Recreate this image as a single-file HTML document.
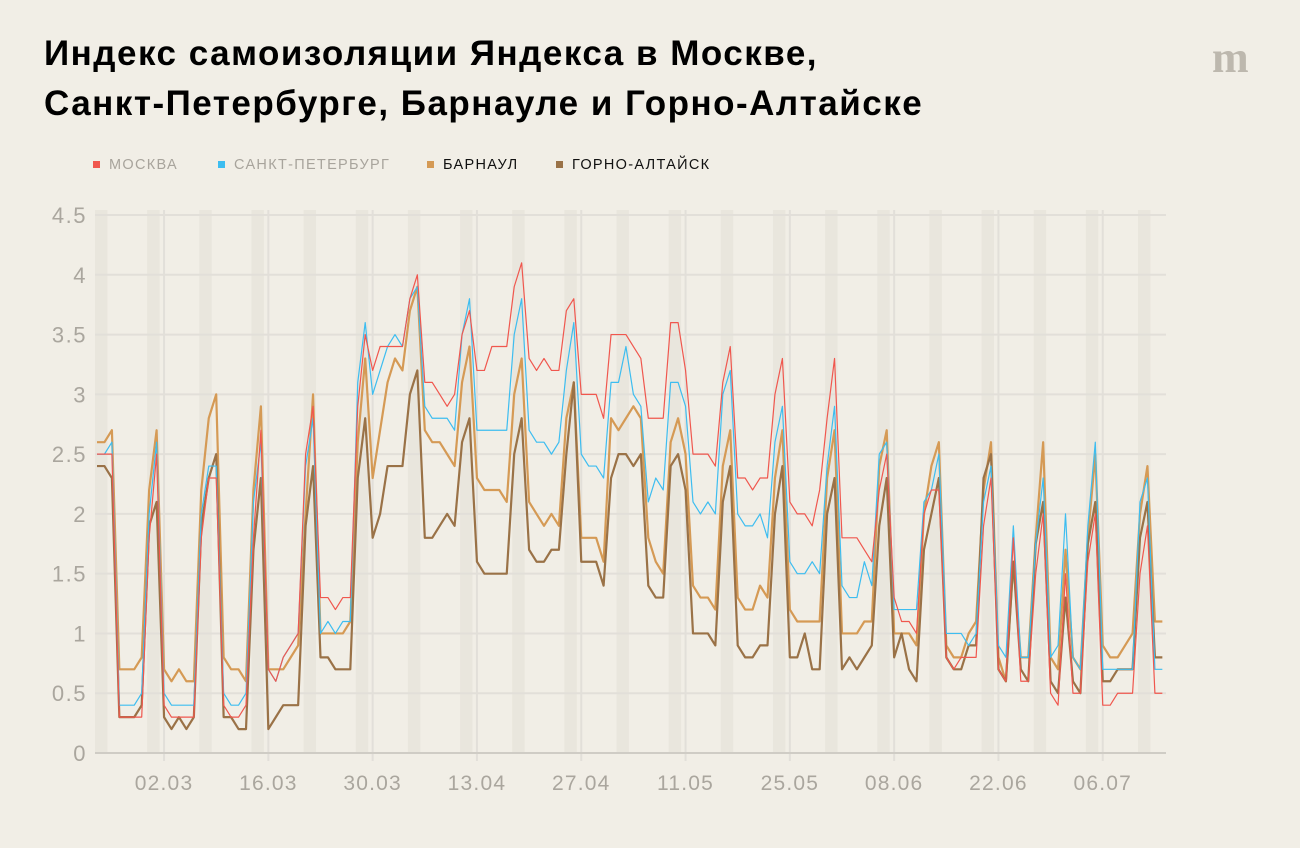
<!DOCTYPE html>
<html><head><meta charset="utf-8"><style>
body{margin:0;background:#f1eee6;width:1300px;height:848px;overflow:hidden;font-family:"Liberation Sans","Noto Sans CJK SC",sans-serif;}
h1{position:absolute;left:44px;top:29px;margin:0;font-size:35px;line-height:50px;font-weight:bold;color:#000;letter-spacing:1.5px;white-space:nowrap;}
.logo{position:absolute;left:1212px;top:32px;font-family:"Liberation Serif",serif;font-weight:bold;font-size:44px;color:#bdb8ae;}
.leg{position:absolute;top:157px;font-size:14.5px;letter-spacing:1.3px;}
.leg i{display:inline-block;width:7px;height:7px;margin-right:9px;vertical-align:1px;}
</style></head><body>
<h1>Индекс самоизоляции Яндекса в Москве,<br>Санкт-Петербурге, Барнауле и Горно-Алтайске</h1>
<div class="logo">m</div>
<div class="leg" style="left:93px;color:#a8a49c"><i style="background:#f0574e"></i>МОСКВА</div>
<div class="leg" style="left:218px;color:#a8a49c"><i style="background:#3dbdf0"></i>САНКТ-ПЕТЕРБУРГ</div>
<div class="leg" style="left:427px;color:#111"><i style="background:#d59a55"></i>БАРНАУЛ</div>
<div class="leg" style="left:556px;color:#111"><i style="background:#9a7247"></i>ГОРНО-АЛТАЙСК</div>
<svg id="chart" width="1300" height="848" style="position:absolute;left:0;top:0"></svg>
<script>
const moscow=[2.5,2.5,2.5,0.3,0.3,0.3,0.3,1.8,2.5,0.4,0.3,0.3,0.3,0.3,1.8,2.3,2.3,0.4,0.3,0.3,0.4,1.8,2.7,0.7,0.6,0.8,0.9,1.0,2.5,2.9,1.3,1.3,1.2,1.3,1.3,2.9,3.5,3.2,3.4,3.4,3.4,3.4,3.8,4.0,3.1,3.1,3.0,2.9,3.0,3.5,3.7,3.2,3.2,3.4,3.4,3.4,3.9,4.1,3.3,3.2,3.3,3.2,3.2,3.7,3.8,3.0,3.0,3.0,2.8,3.5,3.5,3.5,3.4,3.3,2.8,2.8,2.8,3.6,3.6,3.2,2.5,2.5,2.5,2.4,3.1,3.4,2.3,2.3,2.2,2.3,2.3,3.0,3.3,2.1,2.0,2.0,1.9,2.2,2.8,3.3,1.8,1.8,1.8,1.7,1.6,2.2,2.5,1.3,1.1,1.1,1.0,2.0,2.2,2.2,0.8,0.7,0.8,0.8,0.8,1.9,2.3,0.7,0.6,1.8,0.6,0.6,1.5,2.0,0.5,0.4,1.5,0.5,0.5,1.6,2.0,0.4,0.4,0.5,0.5,0.5,1.5,1.9,0.5,0.5];
const spb=[2.5,2.5,2.6,0.4,0.4,0.4,0.5,2.0,2.6,0.5,0.4,0.4,0.4,0.4,2.0,2.4,2.4,0.5,0.4,0.4,0.5,2.1,2.6,0.7,0.6,0.8,0.9,1.0,2.4,2.8,1.0,1.1,1.0,1.1,1.1,3.1,3.6,3.0,3.2,3.4,3.5,3.4,3.8,3.9,2.9,2.8,2.8,2.8,2.7,3.5,3.8,2.7,2.7,2.7,2.7,2.7,3.5,3.8,2.7,2.6,2.6,2.5,2.6,3.2,3.6,2.5,2.4,2.4,2.3,3.1,3.1,3.4,3.0,2.9,2.1,2.3,2.2,3.1,3.1,2.9,2.1,2.0,2.1,2.0,3.0,3.2,2.0,1.9,1.9,2.0,1.8,2.6,2.9,1.6,1.5,1.5,1.6,1.5,2.4,2.9,1.4,1.3,1.3,1.6,1.4,2.5,2.6,1.2,1.2,1.2,1.2,2.1,2.2,2.5,1.0,1.0,1.0,0.9,1.0,2.1,2.4,0.9,0.8,1.9,0.8,0.8,1.75,2.3,0.8,0.9,2.0,0.8,0.7,1.9,2.6,0.7,0.7,0.7,0.7,0.7,2.1,2.3,0.7,0.7];
const barnaul=[2.6,2.6,2.7,0.7,0.7,0.7,0.8,2.2,2.7,0.7,0.6,0.7,0.6,0.6,2.2,2.8,3.0,0.8,0.7,0.7,0.6,2.2,2.9,0.7,0.7,0.7,0.8,0.9,2.0,3.0,1.0,1.0,1.0,1.0,1.1,2.6,3.3,2.3,2.7,3.1,3.3,3.2,3.7,3.9,2.7,2.6,2.6,2.5,2.4,3.1,3.4,2.3,2.2,2.2,2.2,2.1,3.0,3.3,2.1,2.0,1.9,2.0,1.9,2.8,3.1,1.8,1.8,1.8,1.6,2.8,2.7,2.8,2.9,2.8,1.8,1.6,1.5,2.6,2.8,2.5,1.4,1.3,1.3,1.2,2.4,2.7,1.3,1.2,1.2,1.4,1.3,2.3,2.7,1.2,1.1,1.1,1.1,1.1,2.3,2.7,1.0,1.0,1.0,1.1,1.1,2.4,2.7,1.0,1.0,1.0,0.9,2.0,2.4,2.6,0.9,0.8,0.8,1.0,1.1,2.2,2.6,0.8,0.6,1.6,0.8,0.8,1.8,2.6,0.8,0.7,1.7,0.8,0.7,1.8,2.5,0.9,0.8,0.8,0.9,1.0,2.0,2.4,1.1,1.1];
const gorno=[2.4,2.4,2.3,0.3,0.3,0.3,0.4,1.9,2.1,0.3,0.2,0.3,0.2,0.3,1.9,2.3,2.5,0.3,0.3,0.2,0.2,1.7,2.3,0.2,0.3,0.4,0.4,0.4,1.9,2.4,0.8,0.8,0.7,0.7,0.7,2.3,2.8,1.8,2.0,2.4,2.4,2.4,3.0,3.2,1.8,1.8,1.9,2.0,1.9,2.6,2.8,1.6,1.5,1.5,1.5,1.5,2.5,2.8,1.7,1.6,1.6,1.7,1.7,2.5,3.1,1.6,1.6,1.6,1.4,2.3,2.5,2.5,2.4,2.5,1.4,1.3,1.3,2.4,2.5,2.2,1.0,1.0,1.0,0.9,2.1,2.4,0.9,0.8,0.8,0.9,0.9,2.0,2.4,0.8,0.8,1.0,0.7,0.7,2.0,2.3,0.7,0.8,0.7,0.8,0.9,1.9,2.3,0.8,1.0,0.7,0.6,1.7,2.0,2.3,0.8,0.7,0.7,0.9,0.9,2.3,2.5,0.7,0.6,1.6,0.7,0.6,1.75,2.1,0.6,0.5,1.3,0.6,0.5,1.75,2.1,0.6,0.6,0.7,0.7,0.7,1.8,2.1,0.8,0.8];
const yTicks=[0,0.5,1,1.5,2,2.5,3,3.5,4,4.5];
const yTickLabels=["0","0.5","1","1.5","2","2.5","3","3.5","4","4.5"];
const xTickIdx=[9,23,37,51,65,79,93,107,121,135];
const xTickLabels=["02.03","16.03","30.03","13.04","27.04","11.05","25.05","08.06","22.06","06.07"];

const svg=document.getElementById('chart');
const NS='http://www.w3.org/2000/svg';
const X0=97,DX=7.45,Y0=753,YS=119.55,PL=95,PR=1166;
const xs=i=>X0+DX*i, ys=v=>Y0-v*YS;
function mk(t,a){const e=document.createElementNS(NS,t);for(const k in a)e.setAttribute(k,a[k]);svg.appendChild(e);return e;}
for(let k=-1;k<20;k++){
  let a=xs(7*k+7)-2,b=xs(7*k+8)+3;a=Math.max(a,PL);if(b>PR)b=PR;if(b<=a)continue;
  const r=mk('rect',{x:a,y:210,width:b-a,height:Y0-210,fill:'#e9e6dd'});
  
  
}
yTicks.forEach((v,j)=>{
  if(v>0){const l=mk('line',{x1:PL,x2:PR,y1:ys(v),y2:ys(v),stroke:'#e2dfd9','stroke-width':2});
  
  }
  const t=mk('text',{x:87,y:ys(v)+8,'text-anchor':'end','font-size':22,fill:'#aaa69e','font-family':'Liberation Sans, sans-serif','letter-spacing':'1.5'});
  t.textContent=yTickLabels[j];
  
  
});
xTickIdx.forEach((i,j)=>{
  const l=mk('line',{x1:xs(i),x2:xs(i),y1:210,y2:Y0+8,stroke:'#e2dfd9','stroke-width':2});
  
  
  const t=mk('text',{x:xs(i),y:790,'text-anchor':'middle','font-size':21,fill:'#aaa69e','font-family':'Liberation Sans, sans-serif','letter-spacing':'1.2'});
  t.textContent=xTickLabels[j];
  
  
});
const ax=mk('line',{x1:PL,x2:PR,y1:Y0,y2:Y0,stroke:'#cfccc5','stroke-width':2});


function series(d,c,w,name){
  const p=mk('polyline',{points:d.map((v,i)=>xs(i)+','+ys(v)).join(' '),fill:'none',stroke:c,'stroke-width':w,'stroke-linejoin':'round'});
  
  
}
series(barnaul,'#d59a55',2.2,'line-barnaul');
series(gorno,'#9a7247',2.2,'line-gorno-altaysk');
series(spb,'#3dbdf0',1.2,'line-spb');
series(moscow,'#f0574e',1.2,'line-moscow');
</script>
</body></html>
